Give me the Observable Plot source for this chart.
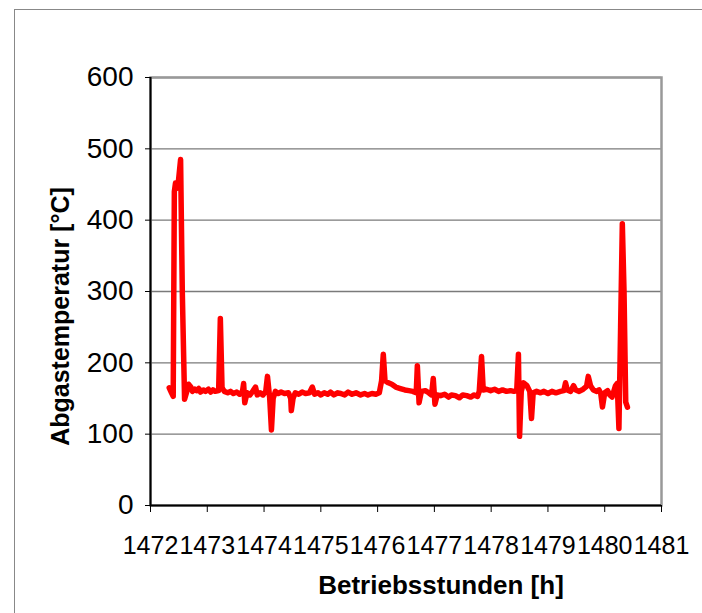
<!DOCTYPE html>
<html><head><meta charset="utf-8">
<script src="https://cdn.jsdelivr.net/npm/d3@7"></script>
<script src="https://cdn.jsdelivr.net/npm/@observablehq/plot@0.6"></script>
<style>
body{margin:0;background:#fff}
#chart{position:relative;width:702px;height:613px;overflow:hidden}
#outer{position:absolute;left:14px;top:9px;width:760px;height:700px;border-left:1.5px solid #888;border-top:1.5px solid #888;pointer-events:none}
</style>
</head><body><div id="chart"><div id="outer"></div></div>
<script>
const hours = [1472.33,1472.37,1472.40,1472.42,1472.44,1472.48,1472.53,1472.56,1472.60,1472.64,1472.67,1472.71,1472.74,1472.78,1472.81,1472.85,1472.88,1472.93,1472.97,1473.02,1473.06,1473.10,1473.14,1473.20,1473.23,1473.26,1473.30,1473.36,1473.41,1473.46,1473.52,1473.57,1473.62,1473.64,1473.66,1473.70,1473.75,1473.80,1473.85,1473.88,1473.93,1473.98,1474.03,1474.06,1474.10,1474.13,1474.16,1474.20,1474.25,1474.30,1474.36,1474.43,1474.47,1474.48,1474.51,1474.55,1474.61,1474.67,1474.73,1474.80,1474.85,1474.89,1474.95,1475.00,1475.06,1475.12,1475.17,1475.23,1475.30,1475.35,1475.42,1475.48,1475.55,1475.62,1475.70,1475.77,1475.83,1475.90,1475.97,1476.03,1476.07,1476.10,1476.13,1476.19,1476.25,1476.32,1476.40,1476.48,1476.55,1476.62,1476.68,1476.70,1476.73,1476.77,1476.84,1476.90,1476.95,1476.98,1477.01,1477.05,1477.11,1477.18,1477.25,1477.30,1477.37,1477.44,1477.50,1477.57,1477.64,1477.70,1477.76,1477.79,1477.83,1477.86,1477.92,1477.99,1478.06,1478.13,1478.20,1478.27,1478.34,1478.40,1478.45,1478.48,1478.50,1478.53,1478.57,1478.63,1478.68,1478.71,1478.74,1478.80,1478.87,1478.93,1479.00,1479.07,1479.14,1479.22,1479.28,1479.31,1479.34,1479.40,1479.45,1479.49,1479.55,1479.62,1479.68,1479.71,1479.75,1479.80,1479.86,1479.90,1479.93,1479.96,1480.00,1480.05,1480.09,1480.13,1480.19,1480.22,1480.25,1480.28,1480.31,1480.34,1480.37,1480.40];
const temps = [165,158,153,440,452,445,485,300,149,160,170,166,160,163,161,164,159,162,160,163,159,162,160,161,262,165,160,158,160,157,159,156,160,171,144,158,155,160,166,155,158,155,160,181,150,106,150,160,157,159,157,158,150,133,150,158,156,159,157,158,166,156,158,155,158,156,159,155,158,157,155,159,156,158,155,157,155,157,156,158,175,212,175,172,170,166,164,162,161,160,158,196,144,160,161,158,155,178,142,155,154,156,152,155,154,151,155,154,152,155,153,160,209,162,163,161,163,160,162,160,161,160,161,212,97,160,172,168,160,122,158,160,158,160,157,160,158,160,161,172,162,160,168,162,160,163,167,181,168,162,160,162,157,138,158,161,155,152,168,171,108,250,395,300,145,138];
const yTicks = [0,100,200,300,400,500,600];
const xTicks = [1472,1473,1474,1475,1476,1477,1478,1479,1480,1481];
const xTitle = "Betriebsstunden [h]";
const yTitle = "Abgastemperatur [°C]";
const data = hours.map((h,i)=>({h, t: temps[i]}));

const chart = Plot.plot({
  width:702, height:613,
  marginLeft:150, marginRight:41, marginTop:77, marginBottom:108,
  style:{fontFamily:"'Liberation Sans', Arial, sans-serif", fontSize:"25px", color:"#000", background:"transparent"},
  x:{domain:[1472,1481]},
  y:{domain:[0,600]},
  marks:[
    Plot.gridY(yTicks.slice(1), {stroke:"#7a7a7a", strokeOpacity:1, strokeWidth:1.3}),
    Plot.frame({stroke:"#999", strokeWidth:2.5}),
    Plot.ruleX([1472], {stroke:"#000", strokeWidth:2}),
    Plot.ruleY([0], {stroke:"#000", strokeWidth:2}),
    Plot.axisY(yTicks, {tickSize:5, tickPadding:12, label:null, tickFormat:d=>String(d), stroke:"#000", fontSize:28}),
    Plot.axisX(xTicks, {tickSize:7, tickPadding:24, label:null, tickFormat:d=>String(d), stroke:"#000", fontSize:25}),
    Plot.line(data, {x:"h", y:"t", stroke:"#ff0000", strokeWidth:5.5, strokeLinejoin:"round", strokeLinecap:"round"}),
    Plot.text([xTitle], {text:d=>d, frameAnchor:"bottom", textAnchor:"middle", dx:35, dy:88, fontWeight:"bold", fontSize:26}),
    Plot.text([yTitle], {text:d=>d, frameAnchor:"left", textAnchor:"middle", rotate:-90, dx:-90, dy:25, fontWeight:"bold", fontSize:25})
  ]
});
document.getElementById("chart").appendChild(chart);
</script>
</body></html>
